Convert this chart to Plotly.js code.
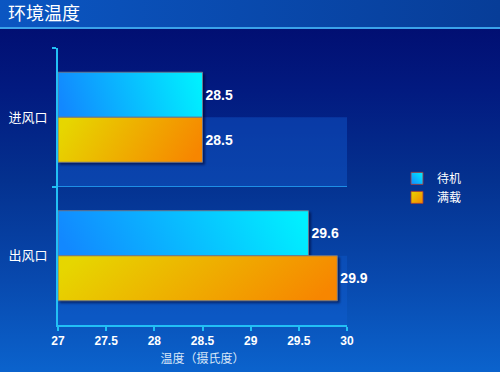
<!DOCTYPE html>
<html>
<head>
<meta charset="utf-8">
<script src="https://cdn.plot.ly/plotly-3.0.1.min.js"></script>
<style>
  html, body { margin: 0; padding: 0; }
  body {
    width: 500px; height: 372px; overflow: hidden;
    background:
      linear-gradient(to right, #0b56c2, #073d98) 0 0 / 500px 27px no-repeat,
      linear-gradient(#3aa2ea, #3aa2ea) 0 27px / 500px 2px no-repeat,
      linear-gradient(to bottom, #010a6c 0px, #021a80 90px, #04318f 180px, #0849ae 280px, #0b63cd 372px);
  }
  #chart { width: 500px; height: 372px; }
</style>
</head>
<body>
<div id="chart"></div>
<script>
// ---- data ----
const categories = ["进风口", "出风口"];
const seriesNames = ["待机", "满载"];
const idleValues = [28.5, 29.6];
const fullValues = [28.5, 29.9];
const xTickVals = [27, 27.5, 28, 28.5, 29, 29.5, 30];
const xTickText = ["27", "27.5", "28", "28.5", "29", "29.5", "30"];
const axisBase = 27;
const titleText = "环境温度";
const xTitleText = "温度（摄氏度）";

const cjk = '"Noto Sans CJK SC", "Noto Sans", sans-serif';
const latin = '"Liberation Sans", Arial, sans-serif';

function barTrace(name, values, color) {
  return {
    type: "bar",
    orientation: "h",
    name: name,
    y: categories,
    base: values.map(() => axisBase),
    x: values.map(v => +(v - axisBase).toFixed(3)),
    text: values.map(v => v.toFixed(1)),
    textposition: "outside",
    cliponaxis: false,
    textfont: { family: latin, size: 14, color: "#ffffff", weight: "bold" },
    marker: { color: color, line: { color: "rgba(110,120,140,0.95)", width: 1 } },
    hoverinfo: "skip"
  };
}

const data = [
  barTrace(seriesNames[0], idleValues, "#0ac0ff"),
  barTrace(seriesNames[1], fullValues, "#f0b000")
];

const layout = {
  width: 500, height: 372,
  margin: { l: 58, r: 153, t: 48, b: 47 },
  paper_bgcolor: "rgba(0,0,0,0)",
  plot_bgcolor: "rgba(0,0,0,0)",
  barmode: "group",
  bargap: 0.35,
  bargroupgap: 0,
  showlegend: true,
  title: {
    text: titleText,
    font: { family: cjk, size: 18, color: "#ffffff" },
    xref: "container", yref: "container",
    x: 8 / 500, xanchor: "left",
    y: 1 - 14 / 372, yanchor: "middle"
  },
  xaxis: {
    range: [27, 30],
    tickvals: xTickVals, ticktext: xTickText,
    showgrid: false, zeroline: false,
    showline: true, linecolor: "#22c0f5", linewidth: 2,
    ticks: "outside", ticklen: 4, tickcolor: "#22c0f5", tickwidth: 2,
    tickfont: { family: latin, size: 12, color: "#ffffff", weight: "bold" },
    title: { text: xTitleText, font: { family: cjk, size: 12, color: "#d8e6f8" }, standoff: 7 }
  },
  yaxis: {
    type: "category",
    autorange: "reversed",
    tickson: "boundaries",
    showgrid: true, gridcolor: "#1e8fe6", gridwidth: 1,
    showline: true, linecolor: "#22c0f5", linewidth: 2,
    ticks: "outside", ticklen: 4, tickcolor: "#22c0f5", tickwidth: 2,
    ticklabelstandoff: 6,
    tickfont: { family: cjk, size: 13, color: "#ffffff" }
  },
  legend: {
    x: 1.173, xanchor: "left",
    y: 0.495, yanchor: "middle",
    bgcolor: "rgba(0,0,0,0)",
    font: { family: cjk, size: 12, color: "#ffffff" },
    tracegroupgap: 0
  },
  shapes: [
    { type: "rect", xref: "paper", yref: "y", x0: 0, x1: 1, y0: 0, y1: 0.5,
      fillcolor: "rgba(20,100,220,0.38)", line: { width: 0 }, layer: "below" },
    { type: "rect", xref: "paper", yref: "y", x0: 0, x1: 1, y0: 1, y1: 1.5,
      fillcolor: "rgba(20,100,220,0.30)", line: { width: 0 }, layer: "below" }
  ]
};

Plotly.newPlot("chart", data, layout, { displayModeBar: false, staticPlot: true }).then(gd => {
  const svgNS = "http://www.w3.org/2000/svg";
  const svg = gd.querySelector("svg.main-svg");
  let defs = svg.querySelector("defs");
  if (!defs) { defs = document.createElementNS(svgNS, "defs"); svg.insertBefore(defs, svg.firstChild); }
  function addGrad(id, x1, y1, x2, y2, stops) {
    const g = document.createElementNS(svgNS, "linearGradient");
    g.setAttribute("id", id);
    g.setAttribute("x1", x1); g.setAttribute("y1", y1);
    g.setAttribute("x2", x2); g.setAttribute("y2", y2);
    stops.forEach(([off, col]) => {
      const s = document.createElementNS(svgNS, "stop");
      s.setAttribute("offset", off); s.setAttribute("stop-color", col);
      g.appendChild(s);
    });
    defs.appendChild(g);
  }
  addGrad("gradIdle", "0", "0.5", "1", "0.4", [["0", "#1288ff"], ["1", "#00f0ff"]]);
  addGrad("gradFull", "0", "0.4", "1", "0.6", [["0", "#e6d600"], ["1", "#f78600"]]);
  addGrad("gradIdleL", "0", "1", "1", "0", [["0", "#1288ff"], ["1", "#00f0ff"]]);
  addGrad("gradFullL", "0", "0", "1", "1", [["0", "#e6d600"], ["1", "#f78600"]]);
  const grads = ["url(#gradIdle)", "url(#gradFull)"];
  const lgrads = ["url(#gradIdleL)", "url(#gradFullL)"];
  gd.querySelectorAll(".barlayer .trace").forEach((tr, i) => {
    tr.querySelectorAll(".point path").forEach(p => {
      p.style.fill = grads[i];
      p.style.filter = "drop-shadow(2px 2px 1px rgba(0,0,40,0.55))";
    });
  });
  gd.querySelectorAll(".legend .traces").forEach((tr, i) => {
    tr.querySelectorAll(".legendpoints path").forEach(p => {
      p.style.fill = lgrads[i];
      p.style.stroke = "rgba(160,60,60,0.9)";
    });
  });
});
</script>
</body>
</html>
